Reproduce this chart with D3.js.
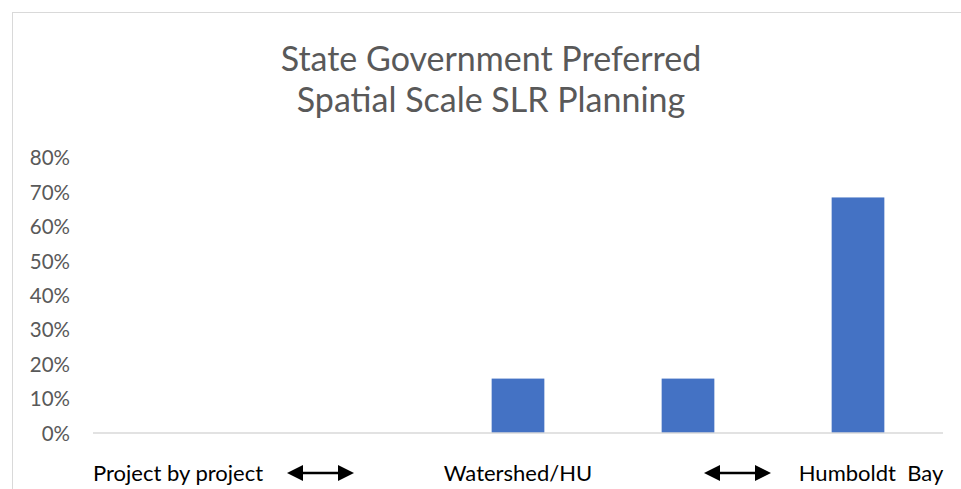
<!DOCTYPE html>
<html>
<head>
<meta charset="utf-8">
<script src="https://cdn.jsdelivr.net/npm/d3@7"></script>
<style>
  html, body { margin: 0; padding: 0; background: #fff; }
  svg { display: block; }
</style>
</head>
<body>
<svg id="chart" width="961" height="489"></svg>
<script>
const titleLines = ["State Government Preferred", "Spatial Scale SLR Planning"];
const categories = ["Project by project", "arrow1", "Watershed/HU", "arrow2", "Humboldt Bay"];
const categoryLabels = ["Project by project", "", "Watershed/HU", "", "Humboldt  Bay"];
const values = [0, 0, 0.158, 0.158, 0.684];
const yTicks = [0, 0.1, 0.2, 0.3, 0.4, 0.5, 0.6, 0.7, 0.8];

const svg = d3.select("#chart");
const font = "Lato, 'Open Sans', sans-serif";

// chart border
svg.append("rect")
  .attr("x", 12.5).attr("y", 12.5)
  .attr("width", 980).attr("height", 500)
  .attr("fill", "#fff").attr("stroke", "#d9d9d9").attr("stroke-width", 1);

const m = { left: 93, right: 943, top: 157.5, bottom: 433 };

const x = d3.scaleBand().domain(categories).range([m.left, m.right]).paddingInner(0.69).paddingOuter(0.345);
const y = d3.scaleLinear().domain([0, 0.8]).range([m.bottom, m.top]);

// title
const title = svg.append("text")
  .attr("text-anchor", "middle")
  .attr("font-family", font)
  .attr("font-weight", 400)
  .attr("font-size", 34)
  .attr("fill", "#595959");
titleLines.forEach((t, i) => {
  title.append("tspan").attr("x", 491).attr("y", 71 + i * 41).text(t);
});

// y axis labels
const yAxis = d3.axisLeft(y).tickValues(yTicks).tickFormat(d3.format(".0%")).tickSize(0).tickPadding(23);
const yg = svg.append("g").attr("transform", `translate(${m.left},0)`).call(yAxis);
yg.select(".domain").remove();
yg.selectAll("text")
  .attr("font-family", font).attr("font-size", 20.5).attr("fill", "#595959").attr("dy", "0.35em");

// bars
svg.append("g").selectAll("rect")
  .data(values.map((v, i) => ({ c: categories[i], v })))
  .join("rect")
  .attr("x", d => x(d.c))
  .attr("width", x.bandwidth())
  .attr("y", d => y(d.v))
  .attr("height", d => y(0) - y(d.v))
  .attr("fill", "#4472C4");

// baseline
svg.append("line")
  .attr("x1", m.left).attr("x2", m.right)
  .attr("y1", y(0)).attr("y2", y(0))
  .attr("stroke", "#d9d9d9").attr("stroke-width", 1.5);

// x axis labels
const xAxis = d3.axisBottom(x).tickFormat((d, i) => categoryLabels[i]).tickSize(0).tickPadding(40);
const xg = svg.append("g").attr("transform", `translate(0,${m.bottom})`).call(xAxis);
xg.select(".domain").remove();
xg.selectAll("text")
  .attr("font-family", font).attr("font-size", 22).attr("fill", "#000")
  .style("white-space", "pre")
  .attr("dy", "0.35em");
xg.selectAll(".tick").filter(d => d === "Humboldt Bay").select("text").attr("dx", 13);

// double-headed arrows
const arrowSpans = [[287, 354], [704, 771]];
const ay = 473;
arrowSpans.forEach(([a, b]) => {
  const g = svg.append("g").attr("fill", "#000");
  g.append("line").attr("x1", a + 10).attr("x2", b - 10).attr("y1", ay).attr("y2", ay)
    .attr("stroke", "#000").attr("stroke-width", 2.5);
  g.append("path").attr("d", `M${a},${ay} L${a + 16},${ay - 8} L${a + 16},${ay + 8} Z`);
  g.append("path").attr("d", `M${b},${ay} L${b - 16},${ay - 8} L${b - 16},${ay + 8} Z`);
});
</script>
</body>
</html>
